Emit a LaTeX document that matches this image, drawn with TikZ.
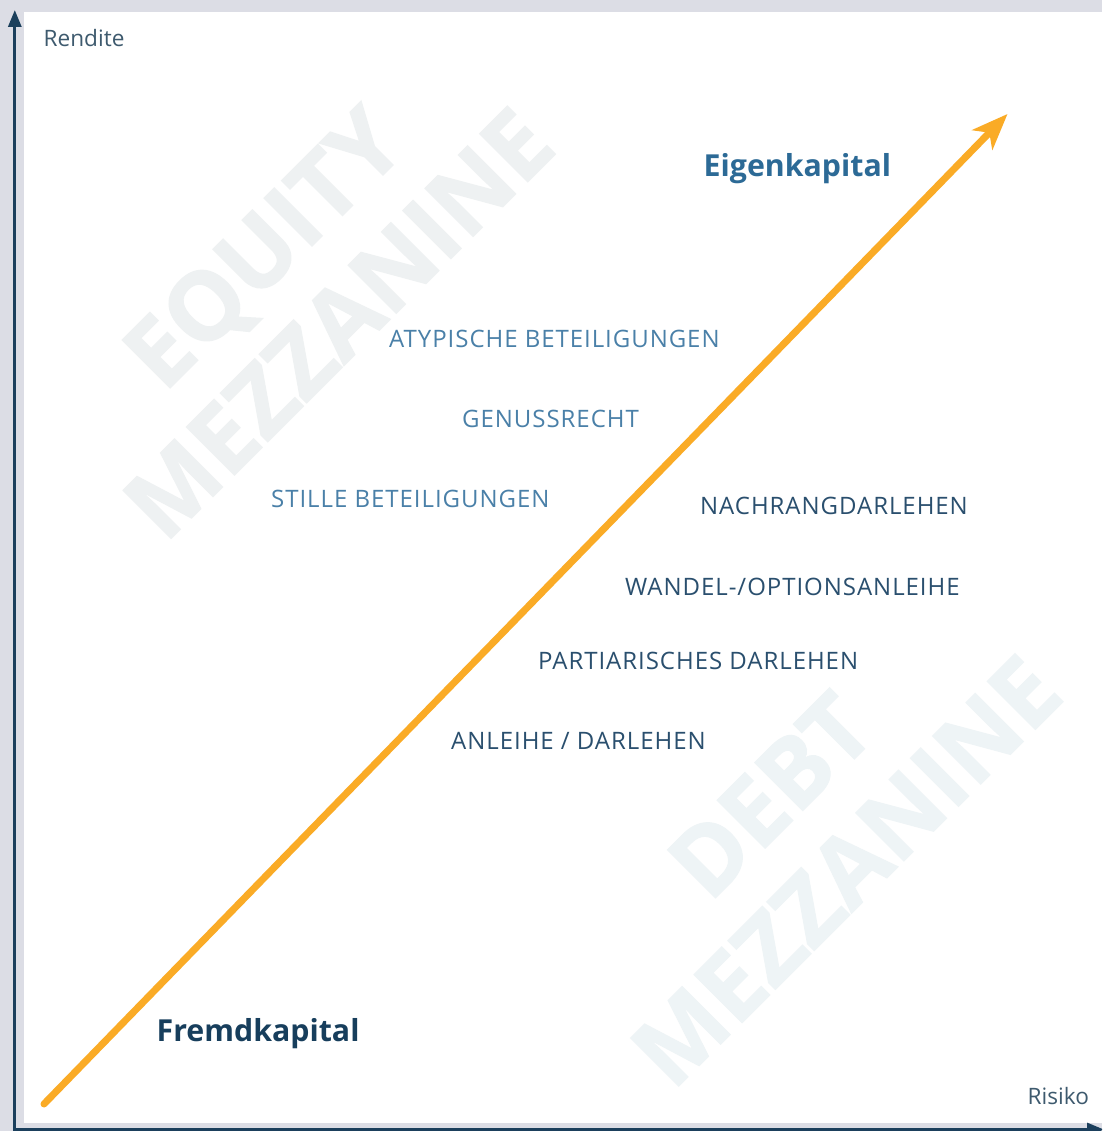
\documentclass[tikz,border=0pt]{standalone}
\usepackage{fontspec}
\setmainfont{Open Sans}
\newfontfamily\spacedfont[LetterSpace=4]{Open Sans}
\newfontfamily\wmfont[BoldFeatures={FakeBold=1.3}]{Open Sans}
\usetikzlibrary{arrows.meta}
\definecolor{bggrey}{HTML}{DCDDE5}
\definecolor{axisnavy}{HTML}{1B3F5C}
\definecolor{axislabel}{HTML}{3E5A6E}
\definecolor{eigenblue}{HTML}{2C6A96}
\definecolor{fremdnavy}{HTML}{173E5C}
\definecolor{upperblue}{HTML}{4A80A8}
\definecolor{lowernavy}{HTML}{2A4F6E}
\definecolor{arroworange}{HTML}{FAAB26}
\definecolor{watermarkeq}{HTML}{EEF1F2}
\definecolor{watermarkdebt}{HTML}{EEF4F6}
\tikzset{
  axisline/.style={draw=axisnavy, line width=3pt},
  axislbl/.style={text=axislabel, font=\fontsize{22.6}{26}\selectfont, inner sep=0pt, anchor=base west},
  headlbl/.style={font=\fontsize{30.3}{36}\selectfont\bfseries, inner sep=0pt, anchor=base west},
  upperitem/.style={text=upperblue, font=\spacedfont\fontsize{24}{28}\selectfont, inner sep=0pt, anchor=base west},
  loweritem/.style={text=lowernavy, font=\spacedfont\fontsize{24}{28}\selectfont, inner sep=0pt, anchor=base west},
  watermarktxt/.style={font=\wmfont\fontsize{95}{107}\selectfont\bfseries, align=center, rotate=45, inner sep=0pt},
  mainarrow/.style={draw=arroworange, line width=7pt, line cap=round, -{Stealth[length=36pt,width=28pt,inset=10pt]}}
}
\begin{document}
\begin{tikzpicture}[x=1pt,y=-1pt]
\useasboundingbox (0,0) rectangle (1102,1131);
\clip (0,0) rectangle (1102,1131);
\fill[bggrey] (0,0) rectangle (1102,1131);
\fill[white] (24,12) rectangle (1110,1123);
% watermarks
\node[watermarktxt, text=watermarkeq] (eqwm) at (300,285) {EQUITY\\MEZZANINE};
\node[watermarktxt, text=watermarkdebt] (debtwm) at (808,833) {DEBT\\MEZZANINE};
% axes
\coordinate (origin) at (14.8,1131);
\coordinate (ytop) at (14.8,10);
\coordinate (xorigin) at (13.3,1129.5);
\coordinate (xend) at (1104,1129.5);
\draw[axisline, -{Triangle[length=17pt,width=13pt]}] (origin) -- (ytop);
\draw[axisline, -{Triangle[length=17pt,width=13pt]}] (xorigin) -- (xend);
\node[axislbl] (rendite) at (43.5,47) {Rendite};
\node[axislbl] (risiko) at (1027.5,1104) {Risiko};
% main arrow
\coordinate (arrstart) at (44,1104);
\coordinate (arrtip) at (1007.5,114);
\draw[mainarrow] (arrstart) -- (arrtip);
% headings
\node[headlbl, text=eigenblue] (eigen) at (703.5,176.5) {Eigenkapital};
\node[headlbl, text=fremdnavy] (fremd) at (156.5,1041.5) {Fremdkapital};
% items
\node[upperitem] (atyp) at (389,347) {ATYPISCHE BETEILIGUNGEN};
\node[upperitem] (genuss) at (462,427) {GENUSSRECHT};
\node[upperitem] (stille) at (271,507) {STILLE BETEILIGUNGEN};
\node[loweritem] (nachrang) at (700,514) {NACHRANGDARLEHEN};
\node[loweritem] (wandel) at (625,595) {WANDEL-/OPTIONSANLEIHE};
\node[loweritem] (partiar) at (538,669) {PARTIARISCHES DARLEHEN};
\node[loweritem] (anleihe) at (451,749) {ANLEIHE / DARLEHEN};
\end{tikzpicture}
\end{document}
